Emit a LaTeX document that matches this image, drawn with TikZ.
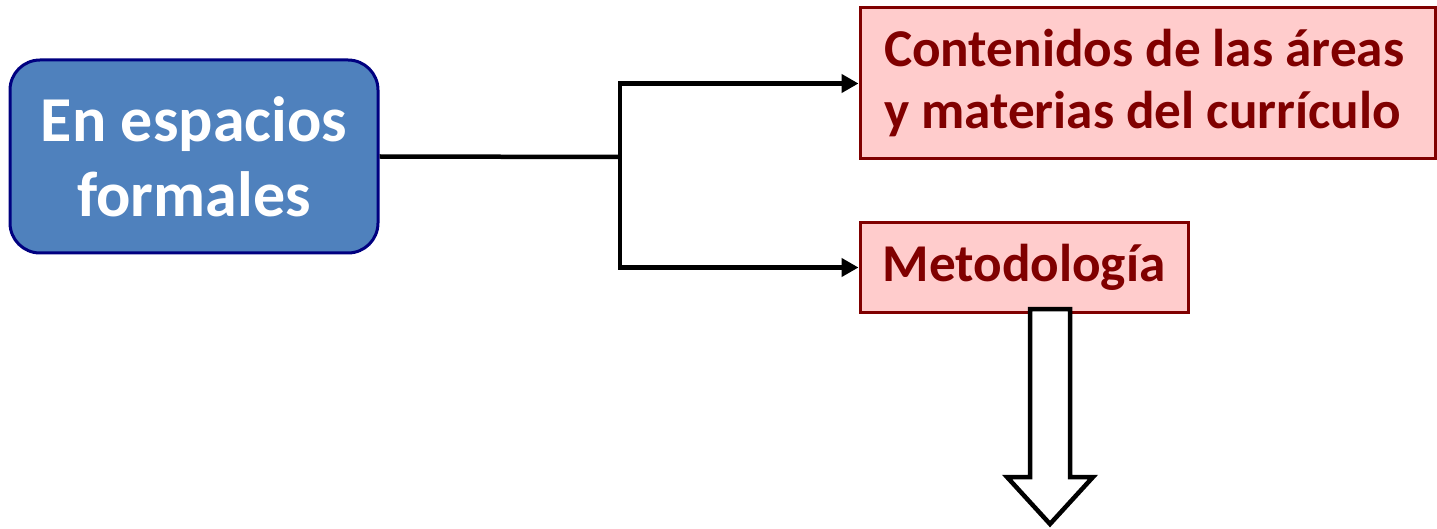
\documentclass[tikz,border=0pt]{standalone}
\usepackage{fontspec}
\setmainfont{Carlito}
\usetikzlibrary{arrows.meta}
\definecolor{boxblue}{HTML}{4F81BD}
\definecolor{navyline}{HTML}{000080}
\definecolor{pinkfill}{HTML}{FFCCCC}
\definecolor{darkred}{HTML}{800000}
\tikzset{
  x=1pt, y=-1pt,
  bluebox/.style={draw=navyline, fill=boxblue, line width=3pt, rounded corners=30pt,
    text=white, align=center, inner sep=0pt,
    font=\fontsize{64}{75}\selectfont\bfseries},
  pinkbox/.style={draw=darkred, fill=pinkfill, line width=3pt,
    text=darkred, inner sep=0pt, font=\fontsize{53.2}{62}\selectfont\bfseries},
  conn/.style={line width=4.5pt, draw=black},
  connarrow/.style={conn, -{Triangle[length=17pt,width=18pt]}},
  hollowarrow/.style={draw=black, fill=white, line width=4.5pt, line join=miter},
}
\begin{document}
\begin{tikzpicture}
\useasboundingbox (0,0) rectangle (1437,529);
\node[bluebox, minimum width=368pt, minimum height=193pt] (a) at (194,156.5) {En espacios\\formales};
\node[pinkbox, minimum width=575pt, minimum height=151pt, text width=527pt, align=flush left] (b) at (1147.5,83.5) {Contenidos de las áreas\\y materias del currículo};
\node[pinkbox, minimum width=328pt, minimum height=89pt] (c) at (1024,267.5) {Metodología};
\coordinate (j) at (620,157);
\draw[conn] (a.east) -- (j);
\draw[connarrow] (j) |- (b.west);
\draw[connarrow] (j) |- (c.west);
\draw[hollowarrow] (1030,309) -- (1030,477) -- (1007,477) -- (1050,524) -- (1093,477) -- (1070,477) -- (1070,309) -- cycle;
\end{tikzpicture}
\end{document}
